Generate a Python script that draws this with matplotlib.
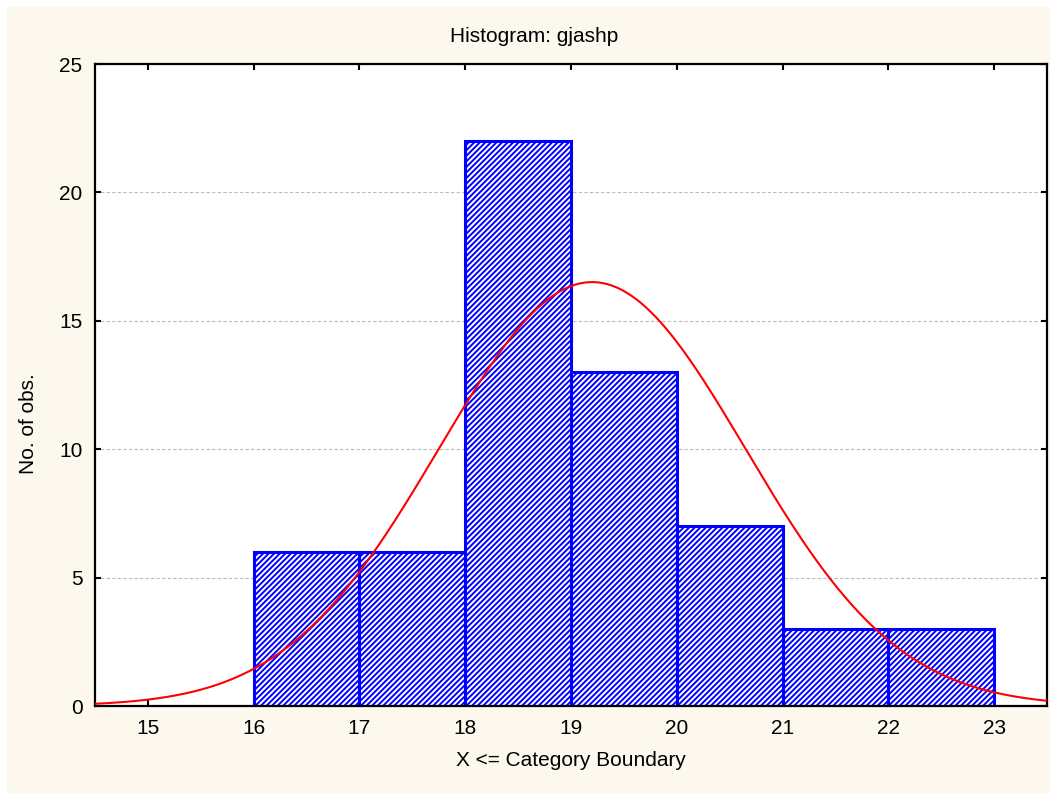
import numpy as np
import matplotlib
matplotlib.use('Agg')
import matplotlib.pyplot as plt
from matplotlib.patches import Rectangle

plt.rcParams['font.family'] = ['Liberation Sans', 'DejaVu Sans']
plt.rcParams['hatch.linewidth'] = 1.4

#%%============================================================================
# Data: category boundaries, counts and the fitted normal curve
#==============================================================================
bin_left = [16, 17, 18, 19, 20, 21, 22]
counts = [6, 6, 22, 13, 7, 3, 3]
bin_width = 1.0
fit_mean = 19.2
fit_sd = 1.45
x_ticks = [15, 16, 17, 18, 19, 20, 21, 22, 23]
y_ticks = [0, 5, 10, 15, 20, 25]

n_obs = sum(counts)
xs = np.linspace(14.5, 23.5, 400)
fit = n_obs * bin_width / (fit_sd * np.sqrt(2 * np.pi)) * \
    np.exp(-0.5 * ((xs - fit_mean) / fit_sd) ** 2)

#%%============================================================================
# Figure with the cream panel
#==============================================================================
fig = plt.figure(figsize=(10.55, 7.94), dpi=100, facecolor='white')
fig.patches.append(Rectangle((7 / 1055, 1 / 794), 1043 / 1055, 786 / 794,
                             transform=fig.transFigure, facecolor='#FCF8EE',
                             edgecolor='none', zorder=-10))

ax = fig.add_axes([95 / 1055, 1 - 706 / 794, 952 / 1055, 642 / 794])
ax.set_facecolor('white')

ax.bar(bin_left, counts, width=bin_width, align='edge', facecolor='white',
       edgecolor='#0000FF', hatch='//////', linewidth=2.2, zorder=2)
ax.plot(xs, fit, color='#FF0000', linewidth=1.5, zorder=3)

ax.set_xlim(14.5, 23.5)
ax.set_ylim(0, 25)
ax.set_xticks(x_ticks)
ax.set_yticks(y_ticks)
ax.yaxis.grid(True, linestyle=(0, (3, 2)), color='#BBBBBB', linewidth=0.8,
              zorder=0)
ax.set_axisbelow(True)

ax.tick_params(direction='in', length=4, width=1.5, top=True, right=True,
               labelsize=15, pad=9)
for s in ax.spines.values():
    s.set_linewidth(1.6)

ax.set_title('Histogram: gjashp', fontsize=15, pad=16)
ax.title.set_x(0.461)
ax.set_xlabel('X <= Category Boundary', fontsize=15, labelpad=10)
ax.set_ylabel('No. of obs.', fontsize=15)
ax.yaxis.set_label_coords(-0.060, 0.44)

fig.savefig('out.png', dpi=100, facecolor=fig.get_facecolor())
